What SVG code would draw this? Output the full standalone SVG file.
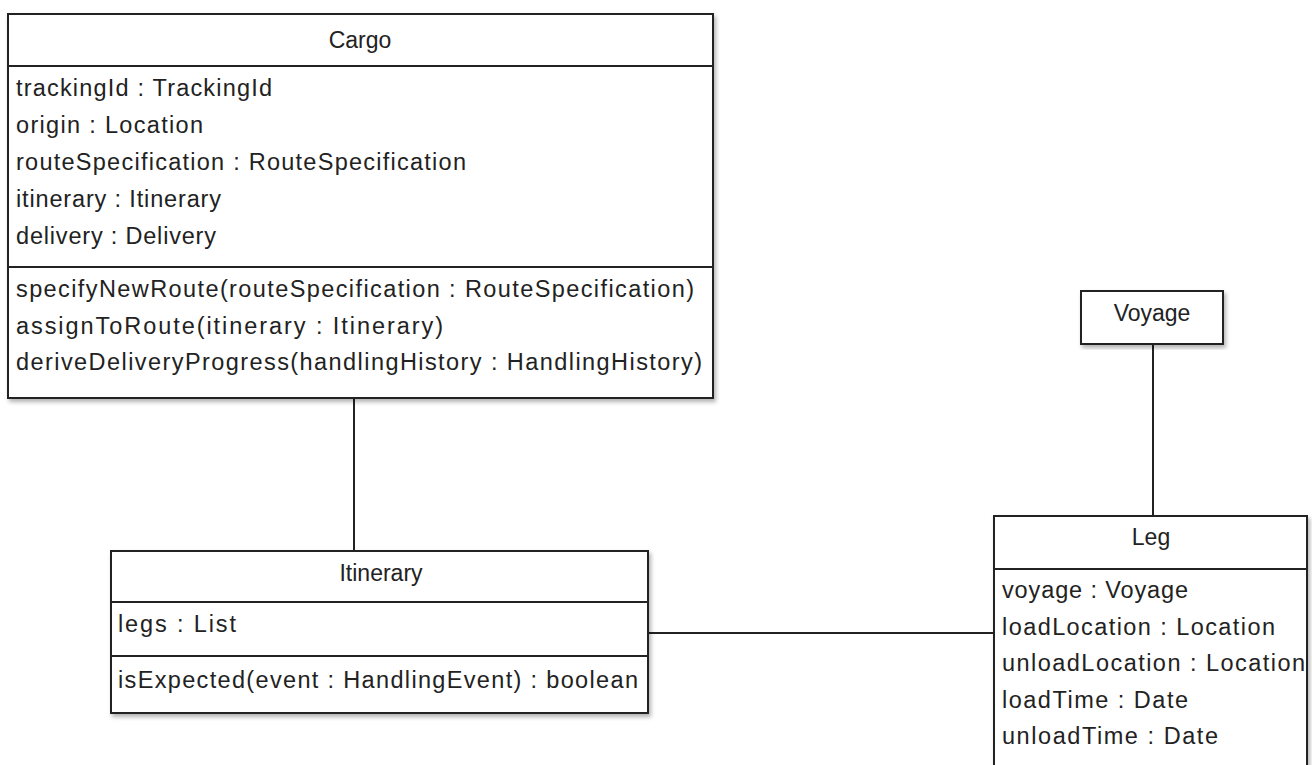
<svg xmlns="http://www.w3.org/2000/svg" width="1312" height="765" viewBox="0 0 1312 765">
<style>
.box{fill:#fff;stroke:#222;stroke-width:2;}
.div{stroke:#222;stroke-width:2;fill:none;}
.conn{stroke:#222;stroke-width:2;fill:none;}
text{font-family:"Liberation Sans",Arial,sans-serif;font-size:23.5px;fill:#222;}
.t{text-anchor:middle;font-size:23px;}
</style>
<defs>
<filter id="sh" x="-5%" y="-5%" width="115%" height="115%">
<feDropShadow dx="2" dy="3" stdDeviation="2" flood-color="#000" flood-opacity="0.3"/>
</filter>
</defs>
<rect width="1312" height="765" fill="#fff"/>
<g id="connectors">
<line class="conn" x1="354" y1="398" x2="354" y2="551"/>
<line class="conn" x1="1153" y1="344" x2="1153" y2="516"/>
<line class="conn" x1="646" y1="633" x2="994" y2="633"/>
</g>
<g id="cargo">
<rect class="box" x="8" y="14" width="705" height="384" filter="url(#sh)"/>
<line class="div" x1="8" y1="66" x2="713" y2="66"/>
<line class="div" x1="8" y1="267" x2="713" y2="267"/>
<text class="t" x="360" y="48">Cargo</text>
<text x="16" y="96" textLength="256">trackingId : TrackingId</text>
<text x="16" y="133" textLength="187">origin : Location</text>
<text x="16" y="170" textLength="450">routeSpecification : RouteSpecification</text>
<text x="16" y="207" textLength="205">itinerary : Itinerary</text>
<text x="16" y="244" textLength="200">delivery : Delivery</text>
<text x="16" y="297" textLength="678">specifyNewRoute(routeSpecification : RouteSpecification)</text>
<text x="16" y="334" textLength="427">assignToRoute(itinerary : Itinerary)</text>
<text x="16" y="370" textLength="686">deriveDeliveryProgress(handlingHistory : HandlingHistory)</text>
</g>
<g id="voyage">
<rect class="box" x="1081" y="291" width="142" height="53" filter="url(#sh)"/>
<text class="t" x="1152" y="321">Voyage</text>
</g>
<g id="itinerary">
<rect class="box" x="111" y="551" width="537" height="162" filter="url(#sh)"/>
<line class="div" x1="111" y1="602" x2="648" y2="602"/>
<line class="div" x1="111" y1="656" x2="648" y2="656"/>
<text class="t" x="381" y="581">Itinerary</text>
<text x="118" y="632" textLength="118">legs : List</text>
<text x="118" y="688" textLength="520">isExpected(event : HandlingEvent) : boolean</text>
</g>
<g id="leg">
<rect class="box" x="994" y="516" width="313" height="270" filter="url(#sh)"/>
<line class="div" x1="994" y1="569" x2="1307" y2="569"/>
<text class="t" x="1151" y="545">Leg</text>
<text x="1002" y="598" textLength="186">voyage : Voyage</text>
<text x="1002" y="635" textLength="273">loadLocation : Location</text>
<text x="1002" y="671" textLength="303">unloadLocation : Location</text>
<text x="1002" y="708" textLength="186">loadTime : Date</text>
<text x="1002" y="744" textLength="216">unloadTime : Date</text>
</g>
</svg>
